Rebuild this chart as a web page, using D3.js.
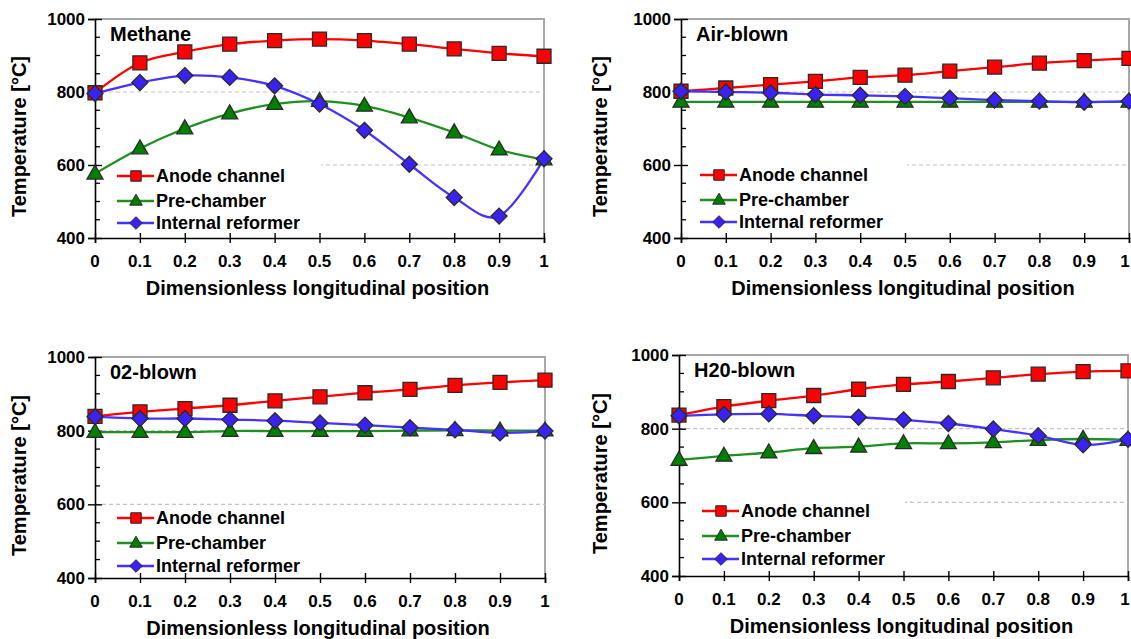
<!DOCTYPE html>
<html>
<head>
<meta charset="utf-8">
<script src="https://cdn.jsdelivr.net/npm/d3@7"></script>
<style>
  html, body { margin: 0; padding: 0; background: #fff; }
  svg { display: block; }
  text { font-family: "Liberation Sans", Arial, sans-serif; font-weight: bold; fill: #000; }
</style>
</head>
<body>
<svg id="chart" width="1131" height="639"></svg>
<script>
// ---------- data ----------
const positions = [0, 0.1, 0.2, 0.3, 0.4, 0.5, 0.6, 0.7, 0.8, 0.9, 1];
const xTickLabels = ["0", "0.1", "0.2", "0.3", "0.4", "0.5", "0.6", "0.7", "0.8", "0.9", "1"];
const yTickValues = [400, 600, 800, 1000];
const yTickLabels = ["400", "600", "800", "1000"];
const seriesNames = ["Anode channel", "Pre-chamber", "Internal reformer"];
const panelTitles = ["Methane", "Air-blown", "02-blown", "H20-blown"];

const methaneAnode    = [798, 880, 910, 931, 941, 945, 941, 931, 918, 906, 898];
const methanePre      = [576, 645, 700, 741, 767, 775, 762, 730, 689, 642, 615];
const methaneReformer = [796, 826, 845, 840, 817, 767, 695, 602, 511, 460, 617];

const airAnode    = [802, 811, 820, 829, 840, 846, 857, 868, 879, 886, 892];
const airPre      = [773, 773, 773, 773, 773, 773, 773, 773, 773, 773, 773];
const airReformer = [802, 800, 798, 793, 791, 788, 783, 778, 775, 772, 775];

const o2Anode    = [839, 851, 860, 869, 881, 892, 903, 912, 923, 931, 937];
const o2Pre      = [796, 796, 796, 799, 799, 799, 799, 800, 801, 800, 800];
const o2Reformer = [838, 833, 833, 830, 827, 821, 815, 808, 802, 794, 799];

const h2oAnode    = [837, 860, 876, 890, 907, 920, 928, 938, 948, 955, 957];
const h2oPre      = [715, 726, 735, 747, 751, 760, 760, 763, 769, 772, 769];
const h2oReformer = [835, 839, 840, 835, 831, 824, 814, 799, 781, 756, 771];

const panelData = [
  [methaneAnode, methanePre, methaneReformer],
  [airAnode, airPre, airReformer],
  [o2Anode, o2Pre, o2Reformer],
  [h2oAnode, h2oPre, h2oReformer]
];

// ---------- layout / style ----------
const layouts = [
  { x0: 95,  x1: 544,  yTop: 19,  yBot: 238, yTitleX: 26,  legRows: [-62, -37, -15], legDx: 0 },
  { x0: 681, x1: 1129, yTop: 19,  yBot: 238, yTitleX: 607, legRows: [-63, -38, -16], legDx: -3 },
  { x0: 95,  x1: 545,  yTop: 357, yBot: 578, yTitleX: 26,  legRows: [-60, -35, -12], legDx: 0 },
  { x0: 679, x1: 1128, yTop: 355, yBot: 576, yTitleX: 607, legRows: [-65, -40, -17], legDx: 1 }
];
const lineColors = ["#ff0000", "#1f8f1f", "#4433ff"];
const fillColors = ["#ff0000", "#008000", "#3a22f0"];

const svg = d3.select("#chart");
svg.append("rect").attr("width", 1131).attr("height", 639).attr("fill", "#fff");

// marker shapes
const squareType = { draw(ctx, size) { const h = Math.sqrt(size) / 2; ctx.moveTo(-h, -h); ctx.lineTo(h, -h); ctx.lineTo(h, h); ctx.lineTo(-h, h); ctx.closePath(); } };
const triangleType = { draw(ctx, size) { const s = Math.sqrt(size); const h = s * 0.87; ctx.moveTo(0, -h * 0.62); ctx.lineTo(s / 2, h * 0.38); ctx.lineTo(-s / 2, h * 0.38); ctx.closePath(); } };
const diamondType = { draw(ctx, size) { const r = Math.sqrt(size) / 2; ctx.moveTo(0, -r); ctx.lineTo(r, 0); ctx.lineTo(0, r); ctx.lineTo(-r, 0); ctx.closePath(); } };
const markerTypes = [squareType, triangleType, diamondType];
const markerSizes = [196, 256, 256];
const legendMarkerSizes = [110, 160, 160];

layouts.forEach((L, pi) => {
  const g = svg.append("g");
  const x = d3.scaleLinear().domain([0, 1]).range([L.x0, L.x1]);
  const y = d3.scaleLinear().domain([400, 1000]).range([L.yBot, L.yTop]);

  // frame (top and right, gray)
  g.append("path")
    .attr("d", `M${L.x0},${y(1000)}H${x(1)}V${y(400)}`)
    .attr("fill", "none").attr("stroke", "#a8a8a8").attr("stroke-width", 2);

  // dashed gridlines
  g.selectAll(".grid").data([600, 800]).enter().append("line")
    .attr("x1", L.x0).attr("x2", x(1))
    .attr("y1", d => y(d)).attr("y2", d => y(d))
    .attr("stroke", "#c4c4c4").attr("stroke-width", 1.2).attr("stroke-dasharray", "4,3");

  // legend background
  const legTop = L.yBot + L.legRows[0] - 12;
  g.append("rect")
    .attr("x", L.x0 + 2).attr("y", legTop)
    .attr("width", 224).attr("height", L.yBot - 2 - legTop)
    .attr("fill", "#fff");

  // y axis (lines via d3.axis, labels drawn separately)
  const yAxis = d3.axisLeft(y).tickValues(yTickValues).tickSize(7).tickFormat("");
  const yAx = g.append("g").attr("transform", `translate(${L.x0},0)`).call(yAxis);
  yAx.select(".domain").attr("stroke", "#000").attr("stroke-width", 1.6);
  yAx.selectAll(".tick line").clone().attr("x2", 7);
  yAx.selectAll(".tick line").attr("stroke", "#000").attr("stroke-width", 1.4);
  g.selectAll(".ylab").data(yTickValues).enter().append("text")
    .attr("x", L.x0 - 10).attr("y", d => y(d)).attr("dy", "0.35em")
    .attr("text-anchor", "end").attr("font-size", 17)
    .text((d, i) => yTickLabels[i]);
  // minor ticks (inside)
  const minor = d3.range(450, 1000, 50).filter(v => v % 200 !== 0);
  g.selectAll(".minor").data(minor).enter().append("line")
    .attr("x1", L.x0).attr("x2", L.x0 + 5)
    .attr("y1", d => y(d)).attr("y2", d => y(d))
    .attr("stroke", "#000").attr("stroke-width", 1.3);

  // x axis
  const xAxis = d3.axisBottom(x).tickValues(positions).tickSize(5).tickFormat("");
  const xAx = g.append("g").attr("transform", `translate(0,${L.yBot})`).call(xAxis);
  xAx.select(".domain").attr("stroke", "#000").attr("stroke-width", 1.6);
  xAx.selectAll(".tick line").clone().attr("y2", -5);
  xAx.selectAll(".tick line").attr("stroke", "#000").attr("stroke-width", 1.4);
  g.selectAll(".xlab").data(positions).enter().append("text")
    .attr("x", d => Math.min(x(d), 1125)).attr("y", L.yBot + 29)
    .attr("text-anchor", "middle").attr("font-size", 17)
    .text((d, i) => xTickLabels[i]);

  // series lines
  const line = d3.line()
    .x((d, i) => x(positions[i]))
    .y(d => y(d))
    .curve(d3.curveCardinal.tension(0));
  panelData[pi].forEach((vals, si) => {
    g.append("path").datum(vals)
      .attr("d", line)
      .attr("fill", "none").attr("stroke", lineColors[si]).attr("stroke-width", 2.3);
  });
  // markers
  panelData[pi].forEach((vals, si) => {
    const sym = d3.symbol().type(markerTypes[si]).size(markerSizes[si]);
    g.selectAll(`.m${si}`).data(vals).enter().append("path")
      .attr("transform", (d, i) => `translate(${x(positions[i])},${y(d)})`)
      .attr("d", sym)
      .attr("fill", fillColors[si]).attr("stroke", "#2a2a2a").attr("stroke-width", 1.3);
  });

  // panel title
  g.append("text").attr("x", L.x0 + 15).attr("y", L.yTop + 22)
    .attr("font-size", 20).text(panelTitles[pi]);

  // axis titles
  g.append("text")
    .attr("transform", `translate(${L.yTitleX},${(L.yTop + L.yBot) / 2 + 8}) rotate(-90)`)
    .attr("text-anchor", "middle").attr("font-size", 20)
    .text("Temperature [°C]");
  g.append("text")
    .attr("x", (L.x0 + L.x1) / 2 - 2).attr("y", L.yBot + 57)
    .attr("text-anchor", "middle").attr("font-size", 20)
    .text("Dimensionless longitudinal position");

  // legend entries
  seriesNames.forEach((name, si) => {
    const ly = L.yBot + L.legRows[si];
    const lx = L.x0 + L.legDx;
    g.append("line").attr("x1", lx + 22).attr("x2", lx + 59).attr("y1", ly).attr("y2", ly)
      .attr("stroke", lineColors[si]).attr("stroke-width", 2.3);
    g.append("path").attr("transform", `translate(${lx + 41},${ly})`)
      .attr("d", d3.symbol().type(markerTypes[si]).size(legendMarkerSizes[si]))
      .attr("fill", fillColors[si]).attr("stroke", "#2a2a2a").attr("stroke-width", 1);
    g.append("text").attr("x", lx + 61).attr("y", ly).attr("dy", "0.35em")
      .attr("font-size", 18).text(name);
  });
});
</script>
</body>
</html>
